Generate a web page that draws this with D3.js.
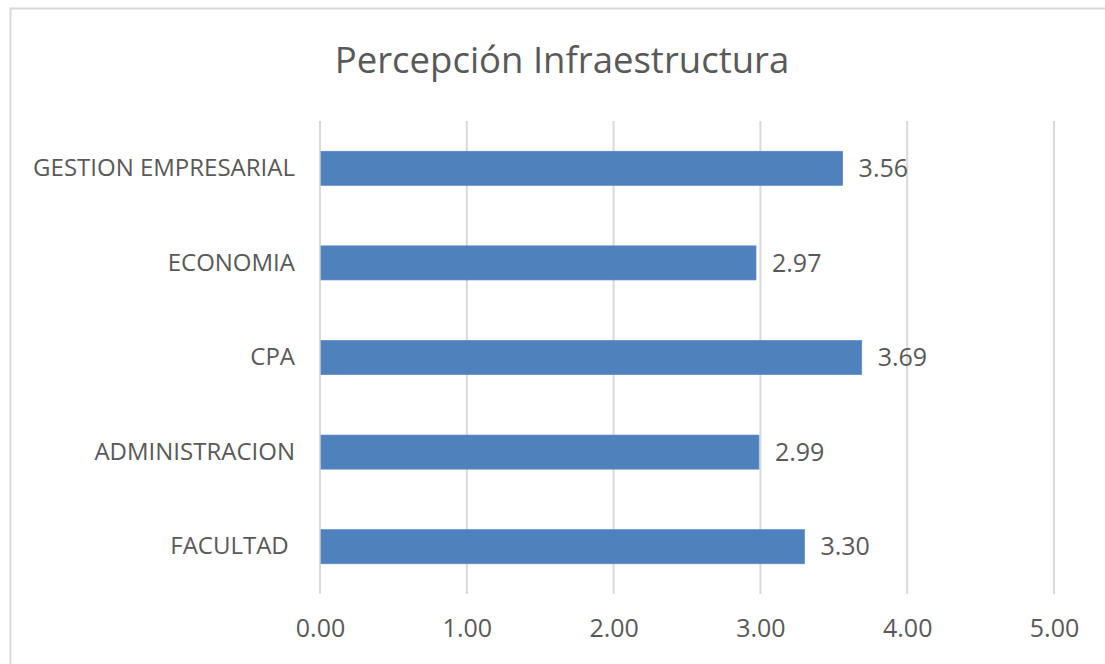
<!DOCTYPE html>
<html><head><meta charset="utf-8">
<script src="https://cdn.jsdelivr.net/npm/d3@7"></script>
<style>
body{margin:0;background:#fff;}
svg text{font-family:"Open Sans","Noto Sans",sans-serif;fill:#595959;white-space:pre;}
</style></head>
<body><svg id="c" width="1105" height="664"></svg>
<script>
const categories = ["GESTION EMPRESARIAL","ECONOMIA","CPA","ADMINISTRACION","FACULTAD "];
const values = [3.56, 2.97, 3.69, 2.99, 3.30];
const xTicks = [0,1,2,3,4,5];
const title = "Percepción Infraestructura";

const svg = d3.select("#c");
svg.append("rect").attr("x",10.5).attr("y",8.5).attr("width",1110).attr("height",670)
  .attr("fill","#fff").attr("stroke","#d9d9d9").attr("stroke-width",2);

const m = {left:320, right:1054, top:121, bottom:594};
const x = d3.scaleLinear().domain([0,5]).range([m.left, m.right]);
const y = d3.scaleBand().domain(categories).range([m.top, m.bottom]).paddingInner(0.64).paddingOuter(0.32);

svg.append("text").attr("x",562).attr("y",73).attr("text-anchor","middle")
  .attr("font-size",36.5).text(title);

// gridlines
svg.append("g").selectAll("line").data(xTicks).join("line")
  .attr("x1",d=>x(d)).attr("x2",d=>x(d)).attr("y1",m.top).attr("y2",m.bottom)
  .attr("stroke","#d9d9d9").attr("stroke-width",2);

// x axis labels
const xa = svg.append("g").attr("transform",`translate(0,${m.bottom})`)
  .call(d3.axisBottom(x).tickValues(xTicks).tickFormat(d3.format(".2f")).tickSize(0).tickPadding(25));
xa.select(".domain").remove();
xa.selectAll("text").attr("font-size",25).attr("fill","#595959").attr("font-family",null);

// y axis labels
const ya = svg.append("g").attr("transform",`translate(${m.left},0)`)
  .call(d3.axisLeft(y).tickSize(0).tickPadding(25));
ya.select(".domain").remove();
ya.selectAll("text").attr("font-size",24).attr("fill","#595959").attr("font-family",null);

// bars
svg.append("g").selectAll("rect").data(values).join("rect")
  .attr("x",x(0)+1).attr("y",(d,i)=>y(categories[i]))
  .attr("width",d=>x(d)-x(0)-1).attr("height",y.bandwidth())
  .attr("fill","#4f81bd").attr("stroke","#5b8ac4").attr("stroke-width",0.75);

// labels
svg.append("g").selectAll("text").data(values).join("text")
  .attr("x",d=>x(d)+16).attr("y",(d,i)=>y(categories[i])+y.bandwidth()/2)
  .attr("dy","0.35em").attr("font-size",25).text(d=>d3.format(".2f")(d));
</script></body></html>
